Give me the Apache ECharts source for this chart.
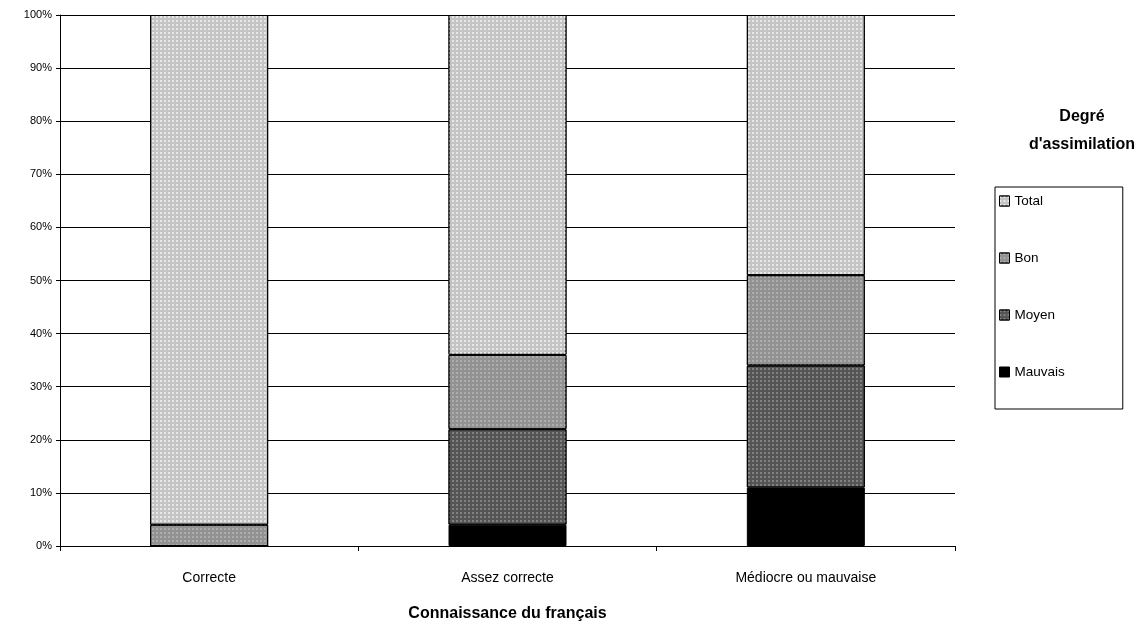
<!DOCTYPE html>
<html><head><meta charset="utf-8">
<script src="https://cdn.jsdelivr.net/npm/echarts@6/dist/echarts.min.js"></script>
<style>html,body{margin:0;padding:0;background:#fff}#c{width:1136px;height:627px}</style>
</head><body><div id="c"></div>
<script>
const categories = ['Correcte', 'Assez correcte', 'Médiocre ou mauvaise'];
const mauvais = [0, 4, 11];
const moyen = [0, 18, 23];
const bon = [4, 14, 17];
const total = [96, 64, 49];
const yTicks = [0, 10, 20, 30, 40, 50, 60, 70, 80, 90, 100];

const font = 'Liberation Sans, Arial, sans-serif';
const chart = echarts.init(document.getElementById('c'));
function s(name, data, color, decalColor) {
  const o = {
    name, type: 'bar', stack: 'a', data, barWidth: 118,
    itemStyle: { color, borderColor: '#000', borderWidth: 1 },
    emphasis: { disabled: true }
  };
  if (decalColor) {
    o.itemStyle.decal = { symbol: 'rect', symbolSize: 1, dashArrayX: [2, 2], dashArrayY: [2, 2], color: decalColor };
  }
  return o;
}
chart.setOption({
  animation: false,
  textStyle: { fontFamily: font },
  title: {
    text: 'Degré\nd\'assimilation', left: 1077, top: 98, textAlign: 'center',
    textStyle: { fontFamily: font, fontSize: 16, fontWeight: 'bold', color: '#000', lineHeight: 28 }
  },
  legend: {
    orient: 'vertical', left: 995, top: 187,
    data: ['Total', 'Bon', 'Moyen', 'Mauvais'],
    icon: 'rect',
    itemWidth: 10, itemHeight: 10, itemGap: 43,
    padding: [7, 58, 30, 4],
    borderColor: '#000', borderWidth: 1,
    textStyle: { fontFamily: font, fontSize: 13.5, color: '#000', padding: [0, 0, 0, 0] },
    itemStyle: { borderColor: '#000', borderWidth: 1 }
  },
  grid: { left: 60, right: 181, top: 15, bottom: 77, containLabel: false },
  xAxis: {
    type: 'category', data: categories,
    name: 'Connaissance du français', nameLocation: 'middle', nameGap: 60,
    nameTextStyle: { fontFamily: font, fontSize: 16, fontWeight: 'bold', color: '#000' },
    axisLine: { lineStyle: { color: '#000', width: 1 } },
    axisTick: { show: true, length: 5, lineStyle: { color: '#000' } },
    axisLabel: { fontFamily: font, fontSize: 14, color: '#000', margin: 25 }
  },
  yAxis: {
    type: 'value', min: 0, max: 100, interval: 10,
    axisLine: { show: true, lineStyle: { color: '#000', width: 1 } },
    axisTick: { show: true, length: 4, lineStyle: { color: '#000' } },
    axisLabel: { fontFamily: font, fontSize: 11, color: '#000', margin: 8,
      formatter: v => yTicks.includes(v) ? v + '%' : '' },
    splitLine: { show: true, lineStyle: { color: '#000', width: 1 } }
  },
  series: [
    s('Mauvais', mauvais, '#000000', null),
    s('Moyen', moyen, '#555555', 'rgba(140,140,140,0.8)'),
    s('Bon', bon, '#929292', 'rgba(180,180,180,0.8)'),
    s('Total', total, '#c4c4c4', 'rgba(235,235,235,0.9)')
  ]
});
</script></body></html>
